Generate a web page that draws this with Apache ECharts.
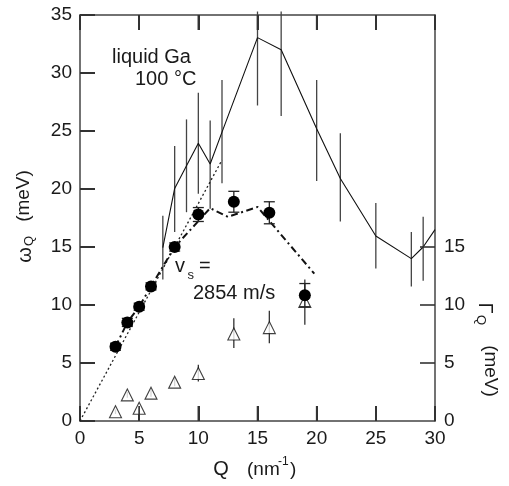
<!DOCTYPE html>
<html>
<head>
<meta charset="utf-8">
<script src="https://cdn.jsdelivr.net/npm/echarts@6/dist/echarts.min.js"></script>
<style>html,body{margin:0;padding:0;background:#fff}#c{width:509px;height:486px}</style>
</head>
<body>
<div id="c"></div>
<script>
// Solid line (omega from fit) with vertical error ranges
const solidQ    = [7, 8, 9, 10, 11, 12, 15, 17, 20, 22, 25, 28, 29, 30];
const solidW    = [14.95, 20.05, 22.0, 23.95, 22.15, 24.9, 33.05, 32.0, 25.2, 20.9, 15.95, 14.0, 15.0, 16.5];
const solidLow  = [12.2, 16.3, 18.0, 19.6, 18.3, 20.5, 27.2, 26.3, 20.7, 17.2, 13.15, 11.6, 12.1, null];
const solidHigh = [17.7, 23.7, 26.0, 28.3, 25.9, 29.4, 35.3, 35.3, 29.4, 24.8, 18.8, 16.3, 17.6, null];

// Filled circles: omega_Q
const circQ   = [3, 4, 5, 6, 8, 10, 13, 16, 19];
const circW   = [6.4, 8.5, 9.85, 11.6, 15.0, 17.8, 18.9, 17.95, 10.85];
const circErr = [0.3, 0.35, 0.3, 0.3, 0.35, 0.6, 0.9, 0.95, 1.0];

// Open triangles: Gamma_Q (right axis)
const triQ    = [3, 4, 5, 6, 8, 10, 13, 16, 19];
const triG    = [0.8, 2.25, 1.1, 2.4, 3.35, 4.1, 7.5, 8.05, 10.3];
const triLow  = [0.6, 2.0, 0.9, 2.1, 3.0, 3.4, 6.3, 6.7, 8.3];
const triHigh = [1.0, 2.5, 1.3, 2.7, 3.7, 4.85, 8.85, 9.5, 12.2];

// Dash-dot line
const dashQ = [3, 4, 5, 6, 8, 11, 12.5, 15, 19.8];
const dashW = [6.4, 8.5, 9.85, 11.6, 15.0, 18.35, 17.6, 18.45, 12.7];

// Dotted sound-velocity line
const dotQ = [0, 12];
const dotW = [0, 22.5];

// Tick values
const xTickVals = [5, 10, 15, 20, 25];
const yTickVals = [5, 10, 15, 20, 25, 30];
const rTicks    = [0, 5, 10, 15];

const FONT = "'Liberation Sans', Arial, Helvetica, sans-serif";
const AX = '#444444';
const TICK = '#333333';
const TXT = '#1a1a1a';
const TICK_LEN = 15;

const zip = (a, b) => a.map((v, i) => [v, b[i]]);

function errRender(cap, color, width) {
  return function (params, api) {
    const x = api.value(0), lo = api.value(1), hi = api.value(2);
    if (isNaN(lo) || isNaN(hi)) return null;
    const p1 = api.coord([x, lo]), p2 = api.coord([x, hi]);
    const st = { stroke: color, lineWidth: width };
    const ch = [{ type: 'line', shape: { x1: p1[0], y1: p1[1], x2: p2[0], y2: p2[1] }, style: st }];
    if (cap) {
      ch.push({ type: 'line', shape: { x1: p1[0] - cap, y1: p1[1], x2: p1[0] + cap, y2: p1[1] }, style: st });
      ch.push({ type: 'line', shape: { x1: p2[0] - cap, y1: p2[1], x2: p2[0] + cap, y2: p2[1] }, style: st });
    }
    return { type: 'group', children: ch };
  };
}

// inward tick marks, positioned through the axis scales
// data rows: [x, y, dirX, dirY]
function tickRender(params, api) {
  const x = api.value(0), y = api.value(1), dx = api.value(2), dy = api.value(3);
  const p = api.coord([x, y]);
  return {
    type: 'group',
    children: [{ type: 'line', shape: { x1: p[0], y1: p[1], x2: p[0] + dx * TICK_LEN, y2: p[1] + dy * TICK_LEN },
                 style: { stroke: TICK, lineWidth: 1.6 } }]
  };
}

const leftTickRows = xTickVals.map(v => [v, 0, 0, -1])
  .concat(xTickVals.map(v => [v, 35, 0, 1]))
  .concat(yTickVals.map(v => [0, v, 1, 0]));
const rightTickRows = rTicks.filter(v => v > 0).map(v => [30, v, -1, 0]);

const chart = echarts.init(document.getElementById('c'), null, { renderer: 'canvas' });

const axTick = { show: true, inside: true, length: TICK_LEN, lineStyle: { color: TICK, width: 2 } };

chart.setOption({
  animation: false,
  backgroundColor: '#fff',
  grid: { left: 80, right: 74, top: 15, bottom: 65 },
  xAxis: [
    { type: 'value', position: 'bottom', min: 0, max: 30, interval: 5,
      axisLine: { show: true, onZero: false, lineStyle: { color: AX, width: 1.5 } },
      axisTick: axTick, splitLine: { show: false },
      axisLabel: { fontSize: 19, color: TXT, fontFamily: FONT, margin: 8, showMinLabel: true, showMaxLabel: true } },
    { type: 'value', position: 'top', min: 0, max: 30, interval: 5,
      axisLine: { show: true, onZero: false, lineStyle: { color: AX, width: 1.5 } },
      axisTick: axTick, splitLine: { show: false }, axisLabel: { show: false } }
  ],
  yAxis: [
    { type: 'value', position: 'left', min: 0, max: 35, interval: 5,
      axisLine: { show: true, onZero: false, lineStyle: { color: AX, width: 1.5 } },
      axisTick: axTick, splitLine: { show: false },
      axisLabel: { fontSize: 19, color: TXT, fontFamily: FONT, margin: 8 } },
    { type: 'value', position: 'right', min: 0, max: 35, interval: 5,
      axisLine: { show: true, onZero: false, lineStyle: { color: AX, width: 1.5 } },
      axisTick: { show: false }, splitLine: { show: false },
      axisLabel: { fontSize: 19, color: TXT, fontFamily: FONT, margin: 9, customValues: rTicks } }
  ],
  series: [
    {
      type: 'custom', name: 'solidErr', renderItem: errRender(0, '#444', 1.3), clip: false,
      data: solidQ.map((q, i) => [q, solidLow[i] == null ? NaN : solidLow[i], solidHigh[i] == null ? NaN : solidHigh[i]]),
      encode: { x: 0, y: [1, 2] }, z: 2
    },
    {
      type: 'custom', name: 'ticksMain', renderItem: tickRender, clip: false,
      dimensions: ['x', 'y', 'dx', 'dy'],
      data: leftTickRows, encode: { x: 0, y: 1 }, z: 8
    },
    {
      type: 'custom', name: 'ticksRight', yAxisIndex: 1, renderItem: tickRender, clip: false,
      dimensions: ['x', 'y', 'dx', 'dy'],
      data: rightTickRows, encode: { x: 0, y: 1 }, z: 8
    },
    {
      type: 'line', name: 'solid', data: zip(solidQ, solidW), showSymbol: false, symbol: 'none',
      lineStyle: { color: '#111', width: 1.1 }, z: 3, clip: true
    },
    {
      type: 'line', name: 'dotted', data: zip(dotQ, dotW), symbol: 'none',
      lineStyle: { color: '#222', width: 1.3, type: [2, 2.5] }, z: 3
    },
    {
      type: 'line', name: 'dashdot', data: zip(dashQ, dashW), symbol: 'none',
      lineStyle: { color: '#111', width: 2, type: [7, 3.5, 2, 3.5] }, z: 3
    },
    {
      type: 'custom', name: 'triErr', yAxisIndex: 1, renderItem: errRender(0, '#333', 1.3),
      data: triQ.map((q, i) => [q, triLow[i], triHigh[i]]), encode: { x: 0, y: [1, 2] }, z: 4
    },
    {
      type: 'scatter', name: 'tri', yAxisIndex: 1, data: zip(triQ, triG), symbol: 'triangle', symbolSize: [12, 12],
      itemStyle: { color: '#fff', borderColor: '#111', borderWidth: 1.1 }, z: 5
    },
    {
      type: 'custom', name: 'circErr', renderItem: errRender(5.5, '#222', 1.3),
      data: circQ.map((q, i) => [q, circW[i] - circErr[i], circW[i] + circErr[i]]), encode: { x: 0, y: [1, 2] }, z: 6
    },
    {
      type: 'scatter', name: 'circ', data: zip(circQ, circW), symbol: 'circle', symbolSize: 12,
      itemStyle: { color: '#000', opacity: 1 }, z: 7
    }
  ],
  graphic: [
    { type: 'text', x: 112, y: 57, style: { text: 'liquid Ga', font: '20px ' + FONT, fill: TXT, verticalAlign: 'middle' } },
    { type: 'text', x: 135, y: 79, style: { text: '100 °C', font: '20px ' + FONT, fill: TXT, verticalAlign: 'middle' } },
    { type: 'text', x: 175, y: 266, style: { text: 'v', font: '20px ' + FONT, fill: TXT, verticalAlign: 'middle' } },
    { type: 'text', x: 187.5, y: 275, style: { text: 's', font: '13px ' + FONT, fill: TXT, verticalAlign: 'middle' } },
    { type: 'text', x: 199, y: 266, style: { text: '=', font: '20px ' + FONT, fill: TXT, verticalAlign: 'middle' } },
    { type: 'text', x: 193, y: 293, style: { text: '2854 m/s', font: '20px ' + FONT, fill: TXT, verticalAlign: 'middle' } },
    // x axis name
    { type: 'text', x: 221, y: 469, style: { text: 'Q', font: '20px ' + FONT, fill: TXT, align: 'center', verticalAlign: 'middle' } },
    { type: 'text', x: 247, y: 470, style: { text: '(nm', font: '19px ' + FONT, fill: TXT, verticalAlign: 'middle' } },
    { type: 'text', x: 278, y: 462, style: { text: '-1', font: '12px ' + FONT, fill: TXT, verticalAlign: 'middle' } },
    { type: 'text', x: 290, y: 470, style: { text: ')', font: '19px ' + FONT, fill: TXT, verticalAlign: 'middle' } },
    // left y axis name
    { type: 'text', x: 25, y: 255, rotation: Math.PI / 2, style: { text: 'ω', font: '20px ' + FONT, fill: TXT, align: 'center', verticalAlign: 'middle' } },
    { type: 'text', x: 29, y: 241, rotation: Math.PI / 2, style: { text: 'Q', font: '13px ' + FONT, fill: TXT, align: 'center', verticalAlign: 'middle' } },
    { type: 'text', x: 24, y: 196, rotation: Math.PI / 2, style: { text: '(meV)', font: '19px ' + FONT, fill: TXT, align: 'center', verticalAlign: 'middle' } },
    // right y axis name
    { type: 'text', x: 485, y: 308, rotation: -Math.PI / 2, style: { text: 'Γ', font: '20px ' + FONT, fill: TXT, align: 'center', verticalAlign: 'middle' } },
    { type: 'text', x: 481, y: 320, rotation: -Math.PI / 2, style: { text: 'Q', font: '13px ' + FONT, fill: TXT, align: 'center', verticalAlign: 'middle' } },
    { type: 'text', x: 490, y: 371, rotation: -Math.PI / 2, style: { text: '(meV)', font: '19px ' + FONT, fill: TXT, align: 'center', verticalAlign: 'middle' } }
  ]
});
</script>
</body>
</html>
